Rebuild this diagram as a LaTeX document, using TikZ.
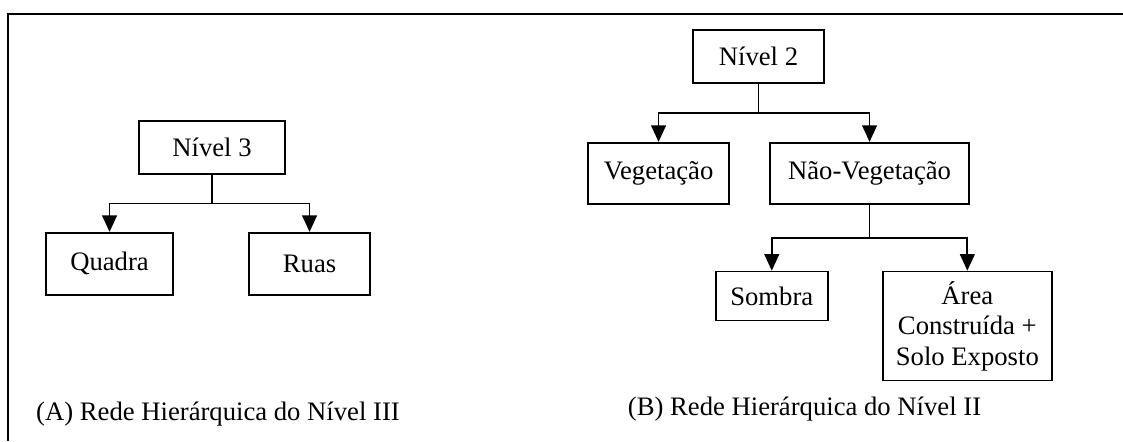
\documentclass[tikz,border=0pt]{standalone}
\usepackage{fontspec}
\setmainfont{Liberation Serif}
\usetikzlibrary{trees,arrows.meta,positioning,calc}

\begin{document}
\begin{tikzpicture}[
			x=0.45pt, y=0.45pt,
			every node/.style={align=center, font=\fontsize{12}{13.8}\selectfont},
			classBox/.style={draw, line width=0.8pt, inner sep=2pt},  % Box around each class
			growth parent anchor=south,
			every child node/.style={anchor=north},  % Children hang from their top edge
			edge from parent/.style={draw, line width=0.8pt, -{Triangle[width=6.6pt, length=7.4pt]}},
			edge from parent path={(\tikzparentnode.south) |- ($(\tikzparentnode.south)!0.5!(\tikzchildnode.north)$) -| (\tikzchildnode.north)}
		]
		\useasboundingbox (0,0) rectangle (1123,441);

		% Frame (top and left only)
		\draw[line width=1pt] (1123,427) -- (7.8,427) -- (7.8,0);

		% Left tree
		\begin{scope}[level distance=25.65pt, sibling distance=90pt]
			\node[classBox, minimum width=65.7pt, minimum height=23.85pt] (nivel3) at (212,293.5) {Nível 3}
			child {node[classBox, minimum width=57.15pt, minimum height=27.9pt, xshift=-1.1pt] (quadra) {Quadra}}
			child {node[classBox, minimum width=54.45pt, minimum height=27.9pt, xshift=-1.1pt] (ruas) {Ruas}};
		\end{scope}

		% Right tree
		\begin{scope}[
				level 1/.style={level distance=26.1pt, sibling distance=94.95pt},
				level 2/.style={level distance=29.7pt, sibling distance=88pt}
			]
			\node[classBox, minimum width=58.95pt, minimum height=23.85pt] (nivel2) at (758.5,384.5) {Nível 2}
			child {node[classBox, minimum width=63.45pt, minimum height=27.45pt, xshift=2.5pt] (veg) {Vegetação}}
			child {node[classBox, minimum width=89.55pt, minimum height=27.45pt, xshift=2.5pt] (naoveg) {Não-Vegetação}
					child {node[classBox, minimum width=50.4pt, minimum height=22.05pt] (sombra) {Sombra}}
					child {node[classBox, minimum width=76.05pt, minimum height=49.05pt] (area) {Área\\Construída +\\Solo Exposto}}
				};
		\end{scope}

		% Captions
		\node (capA) at (218,26.5) {(A) Rede Hierárquica do Nível III};
		\node (capB) at (804.5,31.5) {(B) Rede Hierárquica do Nível II};
	\end{tikzpicture}
\end{document}
